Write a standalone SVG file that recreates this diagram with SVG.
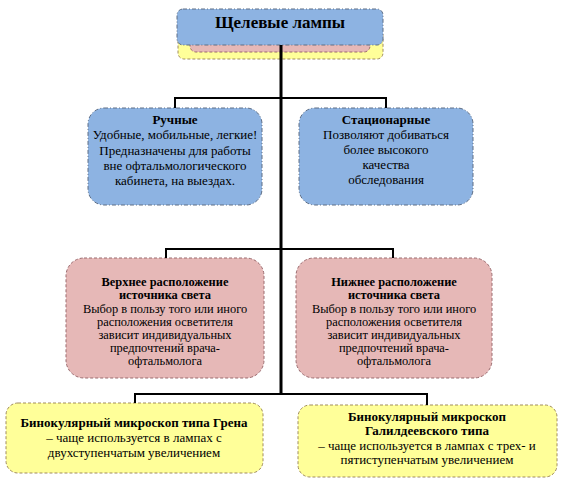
<svg xmlns="http://www.w3.org/2000/svg" width="563" height="487" viewBox="0 0 563 487">
<style>
text{font-family:"Liberation Serif","Times New Roman","DejaVu Serif",serif;font-size:13px;fill:#000;text-anchor:middle}
.b{font-weight:bold}
.s{font-size:12.4px}
.t{font-size:17px;font-weight:bold}
.blue{fill:#8DB3E2;stroke:#5f6f86;stroke-width:1;stroke-dasharray:4 2 1 2}
.pink{fill:#E6B8B7;stroke:#9a6a6e;stroke-width:1;stroke-dasharray:3 2}
.yel{fill:#FFFF99;stroke:#a08c5e;stroke-width:1;stroke-dasharray:3 2}
.c{fill:none;stroke:#000;stroke-width:2}
.trunk{fill:none;stroke:#000;stroke-width:3}
</style>
<rect width="563" height="487" fill="#fff"/>
<g id="title">
<rect class="yel" x="178" y="30" width="205" height="29" rx="6"/>
<rect class="pink" x="190" y="28" width="180" height="24" rx="6"/>
<rect class="blue" x="177" y="9" width="206" height="36" rx="6"/>
<text class="t" x="280" y="28">Щелевые лампы</text>
</g>
<g id="manual">
<rect class="blue" x="88" y="108" width="174" height="97" rx="16"/>
<text class="b" x="175" y="124">Ручные</text>
<text x="175" y="139">Удобные, мобильные, легкие!</text>
<text x="175" y="155">Предназначены для работы</text>
<text x="175" y="169.5">вне офтальмологического</text>
<text x="175" y="184.5">кабинета, на выездах.</text>
</g>
<g id="stationary">
<rect class="blue" x="299" y="108" width="174" height="97" rx="16"/>
<text class="b" x="386" y="124">Стационарные</text>
<text x="386" y="139">Позволяют добиваться</text>
<text x="386" y="154">более высокого</text>
<text x="386" y="169">качества</text>
<text x="386" y="184">обследования</text>
</g>
<g id="upper">
<rect class="pink" x="66" y="258" width="198" height="120" rx="18"/>
<text class="b s" x="165" y="286">Верхнее расположение</text>
<text class="b s" x="165" y="299">источника света</text>
<text class="s" x="165" y="312.5">Выбор в пользу того или иного</text>
<text class="s" x="165" y="325.5">расположения осветителя</text>
<text class="s" x="165" y="338.5">зависит индивидуальных</text>
<text class="s" x="165" y="351.5">предпочтений врача-</text>
<text class="s" x="165" y="364.5">офтальмолога</text>
</g>
<g id="lower">
<rect class="pink" x="296" y="258" width="196" height="120" rx="18"/>
<text class="b s" x="394" y="286">Нижнее расположение</text>
<text class="b s" x="394" y="299">источника света</text>
<text class="s" x="394" y="312.5">Выбор в пользу того или иного</text>
<text class="s" x="394" y="325.5">расположения осветителя</text>
<text class="s" x="394" y="338.5">зависит индивидуальных</text>
<text class="s" x="394" y="351.5">предпочтений врача-</text>
<text class="s" x="394" y="364.5">офтальмолога</text>
</g>
<g id="green">
<rect class="yel" x="6" y="403" width="257" height="70" rx="12"/>
<text class="b" x="134" y="426.5">Бинокулярный микроскоп типа Грена</text>
<text x="134" y="442">– чаще используется в лампах с</text>
<text x="134" y="456.5">двухступенчатым увеличением</text>
</g>
<g id="galilean">
<rect class="yel" x="298" y="405" width="259" height="72" rx="12"/>
<text class="b" x="427" y="420.5">Бинокулярный микроскоп</text>
<text class="b" x="427" y="434.5">Галилдеевского типа</text>
<text x="427" y="449.5">– чаще используется в лампах с трех- и</text>
<text x="427" y="464">пятиступенчатым увеличением</text>
</g>
<g id="connectors">
<path class="trunk" d="M281 45V394"/>
<path class="c" d="M175 108V98H386V108"/>
<path class="c" d="M166 258V249H393V258"/>
<path class="c" d="M135 403V394H427V405"/>
</g>
</svg>
